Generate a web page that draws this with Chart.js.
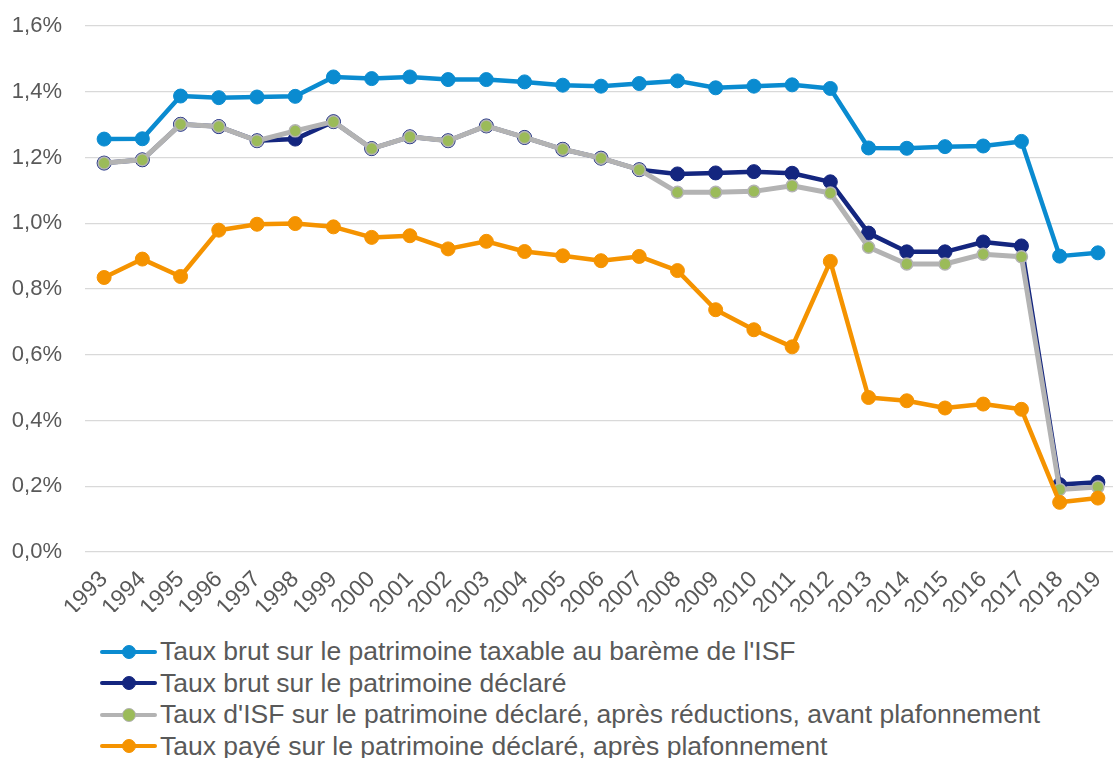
<!DOCTYPE html>
<html>
<head>
<meta charset="utf-8">
<script src="https://cdn.jsdelivr.net/npm/chart.js@4.4.1/dist/chart.umd.min.js"></script>
<style>
  html, body { margin: 0; padding: 0; background: #fff; overflow: hidden; }
  body { width: 1113px; height: 758px; position: relative; font-family: "Liberation Sans", Arial, sans-serif; }
  #wrap { position: absolute; left: 0; top: 0; width: 1125px; height: 612px; }
  #legend { position: absolute; left: 100px; top: 636px; color: #595959; font-size: 26.5px; }
  #legend .row { display: flex; align-items: center; height: 31.5px; white-space: nowrap; }
  #legend .sym { position: relative; width: 57px; height: 14px; margin-right: 3px; flex: none; }
  #legend .sym .ln { position: absolute; left: 0; right: 0; top: 5px; height: 4px; border-radius: 2px; }
  #legend .sym .dot { position: absolute; left: 22px; top: 0; width: 14px; height: 14px; border-radius: 50%; box-sizing: border-box; }
</style>
</head>
<body>
<div id="wrap"><canvas id="lineChart"></canvas></div>
<div id="legend"></div>
<script>
// categories
var years = ["1993","1994","1995","1996","1997","1998","1999","2000","2001","2002","2003","2004","2005",
  "2006","2007","2008","2009","2010","2011","2012","2013","2014","2015","2016","2017","2018","2019"];

// series (in %)
var tauxBrutTaxable = [1.256,1.257,1.387,1.382,1.384,1.386,1.445,1.440,1.445,1.437,1.437,1.430,1.420,
  1.417,1.425,1.433,1.412,1.417,1.421,1.410,1.229,1.228,1.233,1.235,1.249,0.900,0.910];
var tauxBrutDeclare = [1.183,1.193,1.301,1.294,1.251,1.256,1.309,1.227,1.263,1.251,1.296,1.261,1.225,
  1.198,1.163,1.150,1.153,1.157,1.152,1.126,0.970,0.913,0.913,0.943,0.931,0.205,0.212];
var tauxApresReductions = [1.183,1.193,1.301,1.294,1.251,1.281,1.309,1.227,1.263,1.251,1.296,1.261,1.225,
  1.198,1.163,1.094,1.094,1.097,1.114,1.092,0.927,0.876,0.876,0.906,0.898,0.190,0.198];
var tauxPaye = [0.835,0.891,0.838,0.979,0.997,0.999,0.989,0.957,0.962,0.922,0.945,0.914,0.901,
  0.886,0.899,0.856,0.737,0.676,0.624,0.884,0.470,0.460,0.438,0.450,0.434,0.151,0.164];

// y axis ticks
var yTicks = [0, 0.2, 0.4, 0.6, 0.8, 1.0, 1.2, 1.4, 1.6];

var labels = [
  "Taux brut sur le patrimoine taxable au barème de l'ISF",
  "Taux brut sur le patrimoine déclaré",
  "Taux d'ISF sur le patrimoine déclaré, après réductions, avant plafonnement",
  "Taux payé sur le patrimoine déclaré, après plafonnement"
];

var blue = "#0a8bd0", navy = "#14267f", grey = "#b3b3b3", green = "#9bbb59", orange = "#f59300";

function fmt(v) {
  return v.toFixed(1).replace(".", ",") + "%";
}

var ctx = document.getElementById("lineChart").getContext("2d");
var lineChart = new Chart(ctx, {
  type: "line",
  data: {
    labels: years,
    datasets: [
      { label: labels[0], data: tauxBrutTaxable, order: 3,
        borderColor: blue, backgroundColor: blue, borderWidth: 4.5,
        pointRadius: 7, pointBorderWidth: 1, pointBorderColor: blue, pointBackgroundColor: blue },
      { label: labels[1], data: tauxBrutDeclare, order: 2,
        borderColor: navy, backgroundColor: navy, borderWidth: 4.5,
        pointRadius: 7, pointBorderWidth: 1, pointBorderColor: navy, pointBackgroundColor: navy },
      { label: labels[2], data: tauxApresReductions, order: 1,
        borderColor: grey, backgroundColor: green, borderWidth: 5,
        pointRadius: 6, pointBorderWidth: 1.5, pointBorderColor: grey, pointBackgroundColor: green },
      { label: labels[3], data: tauxPaye, order: 0,
        borderColor: orange, backgroundColor: orange, borderWidth: 4.5,
        pointRadius: 7, pointBorderWidth: 1, pointBorderColor: orange, pointBackgroundColor: orange }
    ]
  },
  options: {
    responsive: true,
    maintainAspectRatio: false,
    animation: false,
    layout: { padding: { top: 26, left: 0, right: 0, bottom: 0 } },
    plugins: {
      legend: { display: false },
      tooltip: { enabled: false }
    },
    elements: { line: { tension: 0, borderJoinStyle: "round", borderCapStyle: "round" } },
    scales: {
      x: {
        offset: true,
        grid: { display: false, drawTicks: false },
        border: { display: false },
        ticks: {
          autoSkip: false, minRotation: 45, maxRotation: 45, padding: 14,
          color: "#595959", font: { family: "Liberation Sans", size: 23 }
        },
        afterFit: function(scale) { scale.height = 60; scale.paddingLeft = 0; scale.paddingRight = 0; }
      },
      y: {
        min: 0, max: 1.6,
        afterBuildTicks: function(scale) { scale.ticks = yTicks.map(function(v) { return { value: v }; }); },
        grid: { color: "#d9d9d9", lineWidth: 1.3, drawTicks: false },
        border: { display: false },
        ticks: {
          padding: 23, color: "#595959",
          font: { family: "Liberation Sans", size: 22 },
          callback: function(v) { return fmt(v); }
        },
        afterFit: function(scale) { scale.width = 85; scale.paddingTop = 0; scale.paddingBottom = 0; }
      }
    }
  }
});

// legend (one item per line, left aligned)
var legendColors = [[blue, blue, blue], [navy, navy, navy], [grey, green, grey], [orange, orange, orange]];
var lg = document.getElementById("legend");
labels.forEach(function(txt, i) {
  var c = legendColors[i];
  var row = document.createElement("div");
  row.className = "row";
  row.innerHTML = '<span class="sym"><span class="ln" style="background:' + c[0] + '"></span>' +
    '<span class="dot" style="background:' + c[1] + ';border:1.5px solid ' + c[2] + '"></span></span>' +
    '<span class="txt"></span>';
  row.querySelector(".txt").textContent = txt;
  lg.appendChild(row);
});
</script>
</body>
</html>
